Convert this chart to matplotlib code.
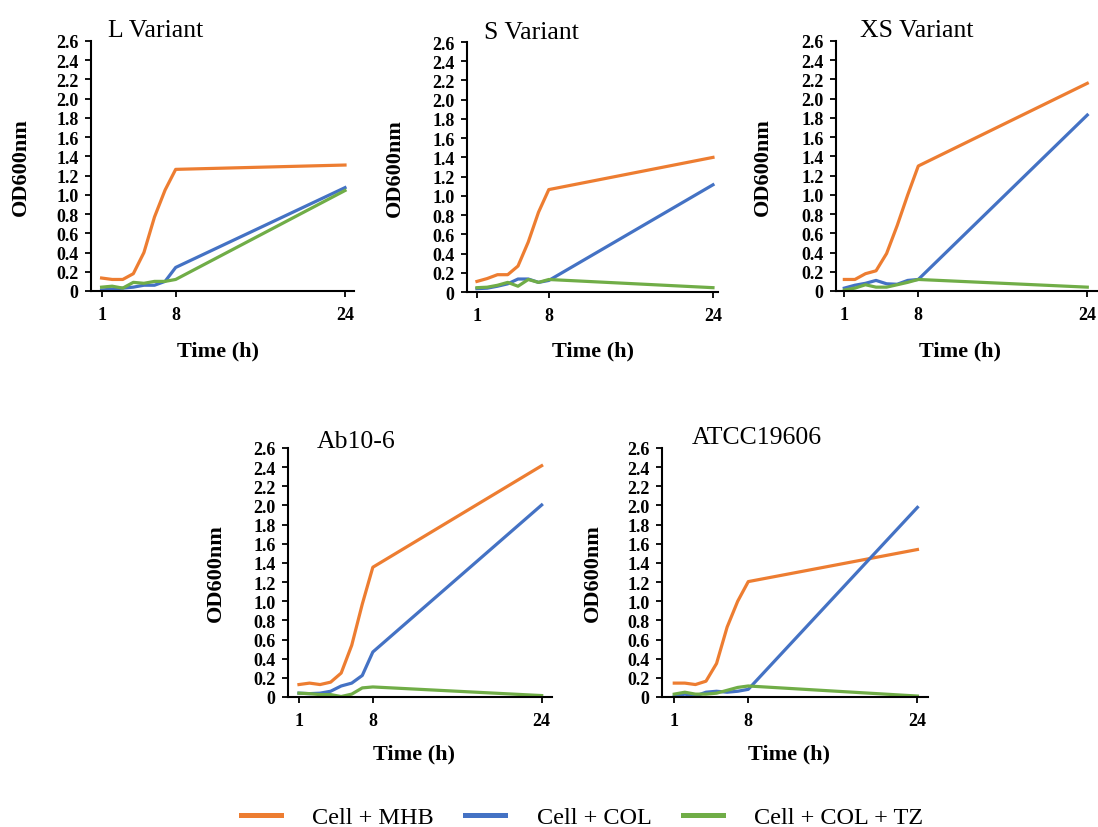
import matplotlib
matplotlib.use("Agg")
import matplotlib.pyplot as plt
from matplotlib.lines import Line2D

plt.rcParams['font.family'] = ['Liberation Serif', 'DejaVu Serif']

hours = [1, 2, 3, 4, 5, 6, 7, 8, 24]
series_names = ["Cell + MHB", "Cell + COL", "Cell + COL + TZ"]
series_colors = ["#ED7D31", "#4472C4", "#70AD47"]
yticks = [0, 0.2, 0.4, 0.6, 0.8, 1.0, 1.2, 1.4, 1.6, 1.8, 2.0, 2.2, 2.4, 2.6]
ytick_labels = ["0", "0.2", "0.4", "0.6", "0.8", "1.0", "1.2", "1.4", "1.6", "1.8", "2.0", "2.2", "2.4", "2.6"]
xticks = [1, 8, 24]

titles = ["L Variant", "S Variant", "XS Variant", "Ab10-6", "ATCC19606"]

L_mhb = [0.135, 0.12, 0.12, 0.18, 0.40, 0.77, 1.05, 1.265, 1.31]
L_col = [0.01, 0.02, 0.03, 0.04, 0.06, 0.06, 0.10, 0.245, 1.075]
L_tz = [0.04, 0.05, 0.03, 0.09, 0.08, 0.10, 0.10, 0.12, 1.045]

S_mhb = [0.11, 0.14, 0.18, 0.18, 0.27, 0.52, 0.83, 1.065, 1.40]
S_col = [0.035, 0.04, 0.06, 0.085, 0.135, 0.135, 0.10, 0.12, 1.115]
S_tz = [0.045, 0.05, 0.07, 0.10, 0.06, 0.13, 0.10, 0.13, 0.045]

XS_mhb = [0.12, 0.12, 0.18, 0.21, 0.39, 0.68, 1.0, 1.30, 2.16]
XS_col = [0.03, 0.06, 0.08, 0.11, 0.075, 0.07, 0.11, 0.12, 1.83]
XS_tz = [0.01, 0.03, 0.065, 0.04, 0.04, 0.065, 0.09, 0.12, 0.04]

Ab_mhb = [0.13, 0.145, 0.13, 0.155, 0.25, 0.54, 0.97, 1.355, 2.415]
Ab_col = [0.04, 0.035, 0.04, 0.06, 0.115, 0.145, 0.225, 0.47, 2.005]
Ab_tz = [0.04, 0.035, 0.025, 0.025, 0.005, 0.03, 0.095, 0.105, 0.015]

AT_mhb = [0.145, 0.145, 0.13, 0.165, 0.35, 0.73, 1.0, 1.205, 1.54]
AT_col = [0.01, 0.03, 0.01, 0.05, 0.06, 0.05, 0.06, 0.08, 1.98]
AT_tz = [0.03, 0.05, 0.03, 0.03, 0.04, 0.07, 0.10, 0.115, 0.01]

panel_data = [
    (L_mhb, L_col, L_tz),
    (S_mhb, S_col, S_tz),
    (XS_mhb, XS_col, XS_tz),
    (Ab_mhb, Ab_col, Ab_tz),
    (AT_mhb, AT_col, AT_tz),
]

W, H = 1098, 828
fig = plt.figure(figsize=(W / 100, H / 100), dpi=100)

# pixel boxes: left, right, top, bottom
boxes = [(91, 354, 42, 292), (467, 718, 43, 293), (836, 1097, 42, 292),
         (288, 552, 449, 698), (662, 928, 449, 698)]
xlims = [(0.0, 24.85), (0.03, 24.49), (0.21, 24.92), (-0.04, 24.98), (-0.16, 25.0)]
title_pos = [(156, 37), (531, 39), (917, 37), (356, 448), (757, 444)]
ylab_x = [-0.228, -0.247, -0.242, -0.235, -0.222]
xlab_pos = [(0.484, -0.196), (0.50, -0.194), (0.475, -0.196), (0.477, -0.188), (0.477, -0.188)]

for i, (box, data) in enumerate(zip(boxes, panel_data)):
    l, r, t, b = box
    ax = fig.add_axes([l / W, 1 - b / H, (r - l) / W, (b - t) / H])
    for vals, c in zip(data, series_colors):
        ax.plot(hours, vals, color=c, lw=2.3, solid_joinstyle='round')
    ax.set_xlim(*xlims[i])
    ax.set_ylim(0, 2.6)
    ax.set_yticks(yticks)
    ax.set_yticklabels(ytick_labels, fontweight='bold', fontsize=13)
    ax.set_xticks(xticks)
    ax.set_xticklabels([str(x) for x in xticks], fontweight='bold', fontsize=13)
    for s in ['top', 'right']:
        ax.spines[s].set_visible(False)
    for s in ['left', 'bottom']:
        ax.spines[s].set_linewidth(1.5)
        ax.spines[s].set_color('black')
    ax.tick_params(axis='both', direction='out', length=4, width=1.3, colors='black')
    ax.tick_params(axis='y', pad=5)
    ax.tick_params(axis='x', pad=7)
    ax.set_ylabel("OD600nm", fontsize=16, fontweight='bold')
    ax.yaxis.set_label_coords(ylab_x[i], 0.5)
    ax.set_xlabel("Time (h)", fontsize=16, fontweight='bold')
    ax.xaxis.set_label_coords(*xlab_pos[i])
    tx, ty = title_pos[i]
    fig.text(tx / W, 1 - ty / H, titles[i], fontsize=18.5, ha='center', va='baseline')

handles = [Line2D([], [], color=c, lw=3.6) for c in series_colors]
fig.legend(handles, series_names, loc='center', bbox_to_anchor=(582 / W, 1 - 818 / H),
           ncol=3, frameon=False, fontsize=17.5, handlelength=1.65, handletextpad=1.3,
           columnspacing=1.28)

fig.savefig("out.png", dpi=100)
